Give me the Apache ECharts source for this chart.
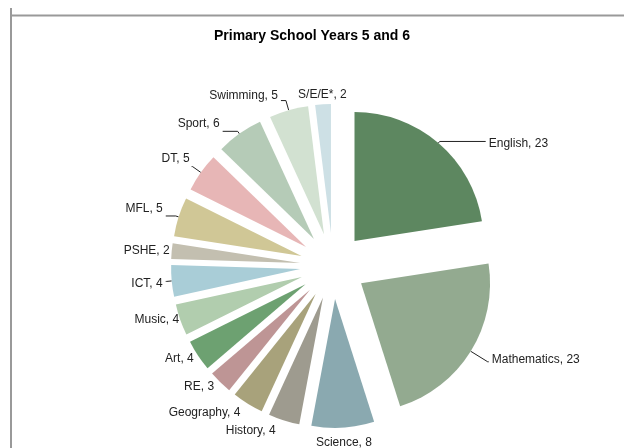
<!DOCTYPE html>
<html>
<head>
<meta charset="utf-8">
<script src="https://cdn.jsdelivr.net/npm/echarts@6/dist/echarts.min.js"></script>
<style>
  html, body { margin: 0; padding: 0; background: #fff; }
  #chart { width: 624px; height: 448px; }
</style>
</head>
<body>
<div id="chart"></div>
<script>
// Lesson hours per subject
const subjects = ['English', 'Mathematics', 'Science', 'History', 'Geography', 'RE', 'Art',
  'Music', 'ICT', 'PSHE', 'MFL', 'DT', 'Sport', 'Swimming', 'S/E/E*'];
const hours = [23, 23, 8, 4, 4, 3, 4, 4, 4, 2, 5, 5, 6, 5, 2];
const sliceColors = ['#5d8760', '#93aa90', '#8aa9b0', '#9e9b8f', '#a8a27b', '#be9595', '#6da171',
  '#b1cdae', '#a9cdd7', '#c3bfb0', '#d0c796', '#e7b6b6', '#b5cbb7', '#d2e1d1', '#cde0e5'];

// label placement per subject:
// len / len2 = leader segments, dy = vertical nudge, gap = space between leader end and text,
// line = draw the leader, centre = text centred on the leader end
const labelStyle = {
  'English':     { len: 2,  len2: 46, dy: 2,  gap: 3, line: true },
  'Mathematics': { len: 20, len2: 1,  dy: -2, gap: 3, line: true },
  'Science':     { len: 15, len2: 0,  dy: 0,  gap: 0, centre: true },
  'History':     { len: 11, len2: 3,  dy: 0,  gap: 2 },
  'Geography':   { len: 10, len2: 0,  dy: 0,  gap: 2 },
  'RE':          { len: 6,  len2: 0,  dy: 0,  gap: 2 },
  'Art':         { len: 5,  len2: 0,  dy: 0,  gap: 0 },
  'Music':       { len: 0,  len2: 0,  dy: 0,  gap: 1 },
  'ICT':         { len: 5,  len2: 1,  dy: 2,  gap: 3, line: true },
  'PSHE':        { len: 0,  len2: 0,  dy: 0,  gap: 2 },
  'MFL':         { len: 3,  len2: 10, dy: -7, gap: 3, line: true },
  'DT':          { len: 10, len2: 1,  dy: -8, gap: 2, line: true },
  'Sport':       { len: 3,  len2: 15, dy: -8, gap: 3, line: true },
  'Swimming':    { len: 10, len2: 5,  dy: -5, gap: 3, line: true },
  'S/E/E*':      { len: 10, len2: 0,  dy: 0,  gap: 0, centre: true }
};

const chart = echarts.init(document.getElementById('chart'), null, { renderer: 'canvas' });

const pieData = subjects.map((name, i) => {
  const s = labelStyle[name];
  return {
    name: name,
    value: hours[i],
    selected: true,
    itemStyle: { color: sliceColors[i] },
    label: { distanceToLabelLine: s.gap },
    labelLine: { show: !!s.line, length: s.len, length2: s.len2 }
  };
});

chart.setOption({
  backgroundColor: '#ffffff',
  animation: false,
  title: {
    text: 'Primary School Years 5 and 6',
    left: 'center',
    top: 24,
    textStyle: { fontFamily: 'Liberation Sans, Arial, sans-serif', fontSize: 14, fontWeight: 'bold', color: '#000' }
  },
  graphic: [
    { type: 'line', shape: { x1: 11, y1: 8, x2: 11, y2: 448 }, style: { stroke: '#999', lineWidth: 2 } },
    { type: 'line', shape: { x1: 10, y1: 15.5, x2: 624, y2: 15.5 }, style: { stroke: '#999', lineWidth: 2 } }
  ],
  series: [{
    type: 'pie',
    center: [333, 266],
    radius: 129,
    startAngle: 90,
    clockwise: true,
    selectedMode: 'multiple',
    selectedOffset: 33,
    avoidLabelOverlap: false,
    emphasis: { disabled: true },
    label: {
      show: true,
      formatter: '{b}, {c}',
      fontFamily: 'Liberation Sans, Arial, sans-serif',
      fontSize: 12,
      color: '#222'
    },
    labelLine: {
      show: true,
      lineStyle: { color: '#222', width: 1 }
    },
    labelLayout: function (params) {
      const s = labelStyle[subjects[params.dataIndex]];
      const out = { dy: s.dy, hideOverlap: false };
      if (s.centre) out.align = 'center';
      return out;
    },
    data: pieData
  }]
});
</script>
</body>
</html>
